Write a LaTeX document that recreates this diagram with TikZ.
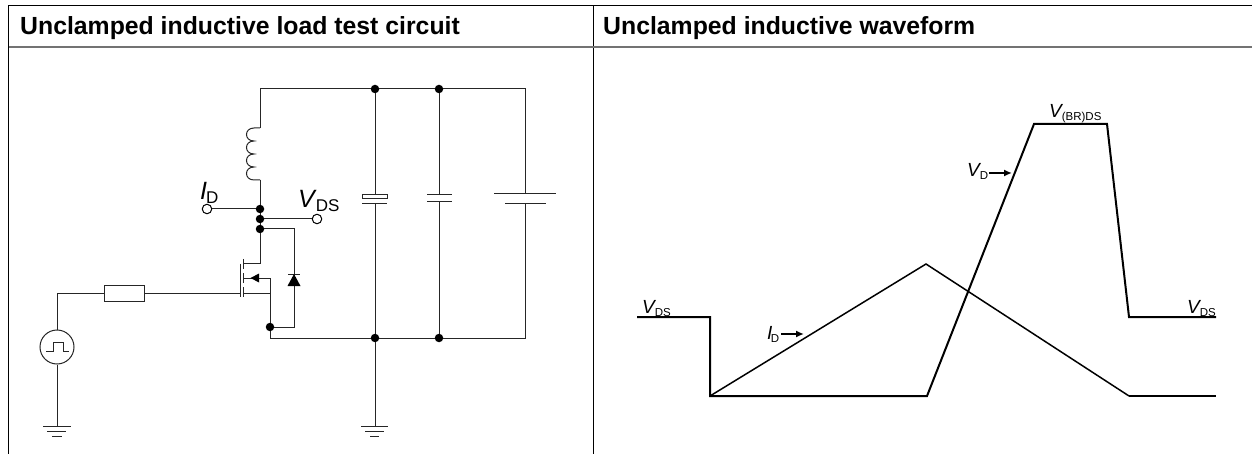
\documentclass[tikz,border=0pt]{standalone}
\usepackage{fontspec}
\setmainfont{Liberation Sans}
\usetikzlibrary{arrows.meta}
\tikzset{
  wire/.style={line width=1pt,black!85},
  frameline/.style={line width=0.9pt,black},
  wave/.style={line width=2pt,black,line join=miter},
  thinwave/.style={line width=1.5pt,black},
  junction/.style={circle,fill=black,inner sep=0pt,minimum size=8.5pt},
  terminal/.style={circle,draw=black,fill=white,line width=1pt,inner sep=0pt,minimum size=9.5pt},
  title/.style={anchor=base west,inner sep=0pt,font=\fontsize{24.8}{26}\selectfont\bfseries},
  labelbig/.style={anchor=base west,inner sep=0pt,font=\fontsize{25}{27}\selectfont},
  labelsmall/.style={anchor=base west,inner sep=0pt,font=\fontsize{19}{21}\selectfont},
  pointer/.style={line width=1.8pt,-{Latex[length=8pt,width=7pt]}},
}
\newcommand{\BigSub}[1]{\kern-1pt\raisebox{-4pt}{\fontsize{17}{19}\selectfont #1}}
\newcommand{\SmallSub}[1]{\kern-1.5pt\raisebox{-3pt}{\fontsize{11.5}{13}\selectfont #1}}
\begin{document}
\begin{tikzpicture}[x=1pt,y=-1pt]
\useasboundingbox (0,0) rectangle (1252,454);
% table
\draw[frameline] (8.5,454) -- (8.5,5.5) -- (1252,5.5);
\draw[frameline] (593,5.5) -- (593,454);
\draw[line width=2pt,black!55] (8.5,47) -- (1252,47);
\node[title] (t1) at (20,35) {Unclamped inductive load test circuit};
\node[title] (t2) at (603,35) {Unclamped inductive waveform};
% junctions
\node[junction] (j1) at (260,209) {};
\node[junction] (j2) at (260,219) {};
\node[junction] (j3) at (260,229) {};
\node[junction] (j4) at (375,89) {};
\node[junction] (j5) at (439,89) {};
\node[junction] (j6) at (375,338) {};
\node[junction] (j7) at (439,338) {};
\node[junction] (j8) at (270,327) {};
\node[terminal] (id) at (207,209) {};
\node[terminal] (vds) at (317,219) {};
\coordinate (ltop) at (260,128);
\coordinate (lbot) at (260,180);
% top and bottom rails
\draw[wire] (ltop) -- (260,89) -- (j4) -- (j5) -- (525,89) -- (525,194);
\draw[wire] (525,204) -- (525,338) -- (j7) -- (j6) -- (270,338) -- (j8);
% inductor
\draw[wire] (ltop) -- (254,128)
  .. controls (244,128) and (244,141) .. (254,141)
  .. controls (244,141) and (244,154) .. (254,154)
  .. controls (244,154) and (244,167) .. (254,167)
  .. controls (244,167) and (244,180) .. (254,180) -- (lbot);
\draw[wire] (lbot) -- (j1) -- (j2) -- (j3) -- (260,264) -- (243,264);
\draw[wire] (id) -- (j1);
\draw[wire] (j2) -- (vds);
% mosfet
\draw[wire] (240,264) -- (240,297);
\draw[wire] (243,259) -- (243,269);
\draw[wire] (243,273) -- (243,283);
\draw[wire] (243,287) -- (243,297);
\draw[wire] (243,278) -- (270,278) -- (j8);
\draw[wire] (243,293) -- (270,293);
\fill (250.5,278) -- (259,273.5) -- (259,282.5) -- cycle;
% diode
\draw[wire] (j3) -- (294,229) -- (294,327) -- (j8);
\draw[wire] (288,274) -- (300,274);
\fill (294,274) -- (300.5,286) -- (287.5,286) -- cycle;
% gate
\node[draw=black!85,line width=1pt,minimum width=40pt,minimum height=16pt,inner sep=0pt] (r) at (124,293) {};
\draw[wire] (r.east) -- (240,293);
\node[draw=black!85,circle,line width=1pt,minimum size=34pt,inner sep=0pt] (src) at (57,347) {};
\draw[wire] (src.north) -- (57,293) -- (r.west);
\draw[wire] (46,351) -- (53,351) -- (53,342.5) -- (63,342.5) -- (63,351) -- (69,351);
% grounds
\coordinate (g1) at (57,426);
\coordinate (g2) at (375,426);
\draw[wire] (src.south) -- (g1);
\draw[wire] (j6) -- (g2);
\draw[wire] (43,426) -- (71,426) (47,431) -- (66,431) (52,436) -- (62,436);
\draw[wire] (361,426) -- (388,426) (365,431) -- (384,431) (370,436) -- (379,436);
% capacitors
\draw[wire] (j4) -- (375,195);
\draw[wire] (362,195) rectangle (387,199);
\draw[wire] (362,204) -- (387,204);
\draw[wire] (375,204) -- (j6);
\draw[wire] (j5) -- (439,195) (427,195) -- (452,195);
\draw[wire] (427,202) -- (452,202) (439,202) -- (j7);
\draw[wire] (494,194) -- (556,194);
\draw[wire] (505,204) -- (546,204);
% circuit labels
\node[labelbig] (lid) at (200,200) {\textit{I}\BigSub{D}};
\node[labelbig] (lvds) at (298,208) {\textit{V}\BigSub{DS}};
% waveform
\draw[wave] (637,317) -- (710,317) -- (710,396) -- (927,396) -- (1034,124) -- (1107,124) -- (1129,317) -- (1216,317);
\draw[thinwave] (710,396) -- (926,264) -- (1129,396);
\draw[wave] (1129,396) -- (1216,396);
\node[labelsmall] (w1) at (642,313) {\textit{V}\SmallSub{DS}};
\node[labelsmall] (w2) at (767,339) {\textit{I}\SmallSub{D}};
\node[labelsmall] (w3) at (967,177) {\textit{V}\SmallSub{D}};
\node[labelsmall] (w4) at (1049,118) {\textit{V}\SmallSub{(BR)DS}};
\node[labelsmall] (w5) at (1187,313) {\textit{V}\SmallSub{DS}};
\coordinate (a2) at (804,334);
\coordinate (a3) at (1012,173);
\draw[pointer] (781,334) -- (a2);
\draw[pointer] (989,173) -- (a3);
\end{tikzpicture}
\end{document}
